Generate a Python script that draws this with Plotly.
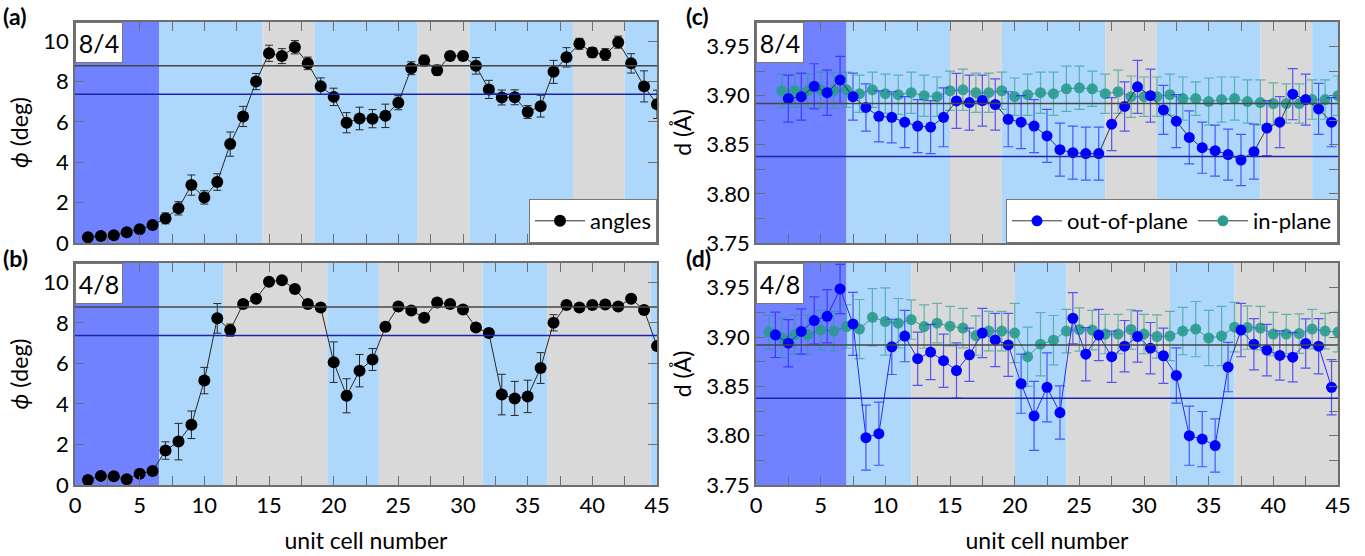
import plotly.graph_objects as go

# ---------------- data ----------------
cells = list(range(1, 46))

angles_84 = [0.28, 0.35, 0.38, 0.53, 0.68,
             0.89, 1.22, 1.72, 2.87, 2.26,
             3.02, 4.90, 6.27, 8.00, 9.40,
             9.26, 9.70, 8.90, 7.77, 7.24,
             5.96, 6.17, 6.16, 6.30, 6.95,
             8.66, 9.04, 8.56, 9.27, 9.27,
             8.78, 7.61, 7.21, 7.22, 6.49,
             6.78, 8.48, 9.20, 9.87, 9.44,
             9.34, 9.95, 8.90, 7.76, 6.87]
angles_84_err = [0.1, 0.1, 0.1, 0.1, 0.1,
                 0.1, 0.27, 0.33, 0.5, 0.33,
                 0.41, 0.6, 0.5, 0.4, 0.4,
                 0.37, 0.33, 0.31, 0.41, 0.43,
                 0.5, 0.56, 0.45, 0.58, 0.35,
                 0.32, 0.27, 0.25, 0.2, 0.2,
                 0.41, 0.45, 0.37, 0.37, 0.32,
                 0.54, 0.57, 0.48, 0.27, 0.25,
                 0.29, 0.3, 0.48, 0.77, 0.7]

angles_48 = [0.25, 0.45, 0.43, 0.28, 0.56,
             0.69, 1.70, 2.14, 2.97, 5.15,
             8.22, 7.64, 8.93, 9.19, 10.03,
             10.10, 9.67, 8.93, 8.75, 6.06,
             4.40, 5.64, 6.19, 7.80, 8.81,
             8.61, 8.25, 9.00, 8.93, 8.66,
             7.77, 7.50, 4.46, 4.27, 4.37,
             5.77, 8.00, 8.88, 8.75, 8.88,
             8.90, 8.80, 9.19, 8.63, 6.85]
angles_48_err = [0.1, 0.1, 0.1, 0.1, 0.1,
                 0.1, 0.43, 0.9, 0.68, 0.65,
                 0.73, 0.3, 0.15, 0.15, 0.15,
                 0.15, 0.15, 0.15, 0.15, 1.0,
                 0.84, 0.8, 0.54, 0.2, 0.15,
                 0.15, 0.15, 0.15, 0.15, 0.15,
                 0.15, 0.2, 1.0, 0.84, 0.8,
                 0.76, 0.4, 0.15, 0.15, 0.15,
                 0.15, 0.15, 0.15, 0.2, 0.2]

# panel (c) 8/4
inp_84_x = list(range(2, 46))
inp_84 = [3.905, 3.905, 3.905, 3.906, 3.905,
          3.906, 3.902, 3.906, 3.902, 3.901,
          3.903, 3.900, 3.899, 3.905, 3.906,
          3.903, 3.903, 3.905, 3.899, 3.901,
          3.903, 3.902, 3.907, 3.908, 3.907,
          3.902, 3.904, 3.899, 3.899, 3.899,
          3.901, 3.897, 3.897, 3.894, 3.896,
          3.897, 3.894, 3.893, 3.892, 3.892,
          3.892, 3.896, 3.896, 3.900]
inp_84_err = [0.017, 0.017, 0.017, 0.018, 0.018,
              0.018, 0.019, 0.018, 0.020, 0.020,
              0.021, 0.021, 0.020, 0.020, 0.021,
              0.020, 0.020, 0.019, 0.019, 0.021,
              0.021, 0.022, 0.023, 0.022, 0.018,
              0.020, 0.022, 0.021, 0.020, 0.020,
              0.021, 0.022, 0.017, 0.024, 0.023,
              0.022, 0.022, 0.023, 0.021, 0.020,
              0.020, 0.020, 0.020, 0.020]
oop_84_x = [i + 0.5 for i in range(2, 45)]
oop_84 = [3.897, 3.899, 3.9095, 3.903, 3.916,
          3.899, 3.888, 3.879, 3.878, 3.873,
          3.869, 3.868, 3.878, 3.8946, 3.893,
          3.895, 3.891, 3.876, 3.873, 3.869,
          3.859, 3.845, 3.842, 3.841, 3.841,
          3.871, 3.889, 3.909, 3.900, 3.8855,
          3.874, 3.8575, 3.847, 3.844, 3.840,
          3.8345, 3.843, 3.867, 3.873, 3.9015,
          3.896, 3.8865, 3.873]
oop_84_err = [0.024, 0.024, 0.023, 0.023, 0.024,
              0.024, 0.024, 0.026, 0.026, 0.026,
              0.027, 0.027, 0.030, 0.028, 0.028,
              0.026, 0.026, 0.028, 0.027, 0.027,
              0.027, 0.027, 0.027, 0.027, 0.027,
              0.027, 0.025, 0.027, 0.027, 0.025,
              0.027, 0.027, 0.026, 0.026, 0.026,
              0.026, 0.028, 0.028, 0.026, 0.026,
              0.026, 0.026, 0.025]

# panel (d) 4/8
inp_48_x = list(range(1, 46))
inp_48 = [3.905, 3.899, 3.9025, 3.902, 3.907,
          3.906, 3.9106, 3.908, 3.920, 3.9157,
          3.914, 3.9177, 3.9106, 3.914, 3.911,
          3.909, 3.9015, 3.906, 3.906, 3.904,
          3.880, 3.8927, 3.8968, 3.906, 3.9076,
          3.907, 3.903, 3.903, 3.9076, 3.903,
          3.9005, 3.901, 3.906, 3.908, 3.899,
          3.901, 3.910, 3.9096, 3.909, 3.903,
          3.903, 3.9035, 3.908, 3.906, 3.905]
inp_48_err = [0.017, 0.020, 0.020, 0.020, 0.020,
              0.020, 0.022, 0.030, 0.029, 0.034,
              0.025, 0.020, 0.022, 0.020, 0.020,
              0.020, 0.020, 0.020, 0.020, 0.030,
              0.030, 0.032, 0.025, 0.022, 0.022,
              0.020, 0.020, 0.020, 0.020, 0.020,
              0.022, 0.025, 0.024, 0.028, 0.028,
              0.030, 0.025, 0.022, 0.022, 0.022,
              0.020, 0.020, 0.020, 0.018, 0.020]
oop_48_x = [i + 0.5 for i in range(1, 45)]
oop_48 = [3.9022, 3.8937, 3.9056, 3.9167, 3.921,
          3.9487, 3.9133, 3.798, 3.802, 3.890,
          3.9009, 3.878, 3.8847, 3.876, 3.866,
          3.882, 3.904, 3.897, 3.892, 3.8527,
          3.820, 3.849, 3.8234, 3.919, 3.8826,
          3.902, 3.880, 3.8907, 3.9005, 3.8887,
          3.881, 3.861, 3.800, 3.7965, 3.790,
          3.8695, 3.907, 3.8927, 3.8867, 3.8813,
          3.8796, 3.8934, 3.8907, 3.849]
oop_48_err = [0.023, 0.024, 0.023, 0.024, 0.027,
              0.025, 0.032, 0.033, 0.032, 0.028,
              0.026, 0.027, 0.028, 0.027, 0.028,
              0.027, 0.025, 0.027, 0.032, 0.030,
              0.035, 0.035, 0.027, 0.026, 0.027,
              0.026, 0.026, 0.026, 0.026, 0.026,
              0.028, 0.028, 0.030, 0.028, 0.027,
              0.025, 0.027, 0.026, 0.026, 0.025,
              0.025, 0.025, 0.028, 0.028]

# layer regions (edges in unit cells) and their kinds
bands_a = [0, 6.5, 14.5, 18.5, 26.5, 30.5, 38.5, 42.5, 45]
bands_b = [0, 6.5, 11.5, 19.5, 23.5, 31.5, 36.5, 44.5, 45]
bands_c = [0, 7, 15, 19, 27, 31, 39, 43, 45]
bands_d = [0, 7, 12, 20, 24, 32, 37, 45]
kinds = ["sub", "blue", "gray", "blue", "gray", "blue", "gray", "blue"]

ref_angles = [8.78, 7.37]
ref_d = [3.892, 3.838]

x_ticks = [0, 5, 10, 15, 20, 25, 30, 35, 40, 45]

# ---------------- styling ----------------
W, H = 1365, 556
FONT = "Lato, 'Open Sans', sans-serif"
band_col = {"sub": "rgb(112,130,255)", "blue": "rgb(173,216,251)", "gray": "rgb(217,217,217)"}
ref_cols = ["rgb(70,70,70)", "rgb(30,35,170)"]
frame = "rgb(110,110,110)"
teal = "rgba(40,155,142,0.9)"
teal_err = "rgba(40,155,142,0.65)"
blue = "rgb(0,0,255)"
blue_err = "rgba(40,40,255,0.75)"

def px_x(p):
    return p / W

def px_y(p):
    return 1 - p / H

dom_left = [px_x(75), px_x(657)]
dom_right = [px_x(756), px_x(1338)]
dom_top = [px_y(243), px_y(22)]
dom_bot = [px_y(485), px_y(263)]

fig = go.Figure()

# panel (a)
fig.add_trace(go.Scatter(
    x=cells, y=angles_84, mode="lines+markers", name="angles",
    line=dict(color="rgb(40,40,40)", width=1),
    marker=dict(color="black", size=12),
    error_y=dict(type="data", array=angles_84_err, color="rgb(40,40,40)", thickness=1, width=4),
    xaxis="x", yaxis="y", legend="legend"))
# panel (b)
fig.add_trace(go.Scatter(
    x=cells, y=angles_48, mode="lines+markers", name="angles", showlegend=False,
    line=dict(color="rgb(40,40,40)", width=1),
    marker=dict(color="black", size=12),
    error_y=dict(type="data", array=angles_48_err, color="rgb(40,40,40)", thickness=1, width=4),
    xaxis="x2", yaxis="y2"))
# panel (c)
fig.add_trace(go.Scatter(
    x=inp_84_x, y=inp_84, mode="lines+markers", name="in-plane", showlegend=False,
    line=dict(color="rgba(40,90,90,0.6)", width=1),
    marker=dict(color=teal, size=11),
    error_y=dict(type="data", array=inp_84_err, color=teal_err, thickness=1.2, width=5),
    xaxis="x3", yaxis="y3"))
fig.add_trace(go.Scatter(
    x=oop_84_x, y=oop_84, mode="lines+markers", name="out-of-plane",
    line=dict(color="rgb(50,50,70)", width=1),
    marker=dict(color=blue, size=11),
    error_y=dict(type="data", array=oop_84_err, color=blue_err, thickness=1.2, width=5),
    xaxis="x3", yaxis="y3", legend="legend2"))
fig.add_trace(go.Scatter(
    x=[None], y=[None], mode="lines+markers", name="in-plane",
    line=dict(color="rgb(50,50,50)", width=1),
    marker=dict(color="rgb(45,155,145)", size=11),
    xaxis="x3", yaxis="y3", legend="legend2"))
# panel (d)
fig.add_trace(go.Scatter(
    x=inp_48_x, y=inp_48, mode="lines+markers", name="in-plane", showlegend=False,
    line=dict(color="rgba(40,90,90,0.6)", width=1),
    marker=dict(color=teal, size=11),
    error_y=dict(type="data", array=inp_48_err, color=teal_err, thickness=1.2, width=5),
    xaxis="x4", yaxis="y4"))
fig.add_trace(go.Scatter(
    x=oop_48_x, y=oop_48, mode="lines+markers", name="out-of-plane", showlegend=False,
    line=dict(color="rgb(40,40,255)", width=1),
    marker=dict(color=blue, size=11),
    error_y=dict(type="data", array=oop_48_err, color=blue_err, thickness=1.2, width=5),
    xaxis="x4", yaxis="y4"))

shapes = []
def add_bands(edges, xr, yr):
    for i in range(len(edges) - 1):
        shapes.append(dict(type="rect", xref=xr, yref=yr + " domain",
                           x0=edges[i], x1=edges[i + 1], y0=0, y1=1,
                           fillcolor=band_col[kinds[i]], line=dict(width=0), layer="below"))

def add_refs(vals, xr, yr):
    for v, c in zip(vals, ref_cols):
        shapes.append(dict(type="line", xref=xr + " domain", yref=yr,
                           x0=0, x1=1, y0=v, y1=v, line=dict(color=c, width=1.5), layer="above"))

add_bands(bands_a, "x", "y")
add_bands(bands_b, "x2", "y2")
add_bands(bands_c, "x3", "y3")
add_bands(bands_d, "x4", "y4")
add_refs(ref_angles, "x", "y")
add_refs(ref_angles, "x2", "y2")
add_refs(ref_d, "x3", "y3")
add_refs(ref_d, "x4", "y4")

tickfont = dict(family=FONT, size=22, color="black")
titlefont = dict(family=FONT, size=23, color="black")

def xax(domain, anchor, labels):
    return dict(domain=domain, anchor=anchor, range=[0, 45], tickmode="array",
                tickvals=x_ticks, ticktext=[str(t) for t in x_ticks] if labels else [""] * len(x_ticks),
                ticks="inside", ticklen=9, tickcolor=frame, tickwidth=1.2,
                minor=dict(dtick=2.5, tick0=0, ticks="inside", ticklen=9, tickcolor=frame, tickwidth=1.2),
                showline=True, linecolor=frame, linewidth=1.5, mirror="ticks",
                showgrid=False, zeroline=False, tickfont=tickfont, automargin=False,
                title=dict(text="unit cell number" if labels else "", font=titlefont, standoff=16))

def yax_angle(domain, anchor):
    return dict(domain=domain, anchor=anchor, range=[0, 10.95], dtick=2, tick0=0,
                ticks="inside", ticklen=9, tickcolor=frame, tickwidth=1.2,
                showline=True, linecolor=frame, linewidth=1.5, mirror="ticks",
                showgrid=False, zeroline=False, tickfont=tickfont, automargin=False,
                title=dict(text="<i>ϕ</i> (deg)", font=titlefont, standoff=8))

def yax_d(domain, anchor):
    return dict(domain=domain, anchor=anchor, range=[3.75, 3.975], dtick=0.05, tick0=3.75,
                tickformat=".2f",
                ticks="inside", ticklen=9, tickcolor=frame, tickwidth=1.2,
                minor=dict(dtick=0.025, tick0=3.75, ticks="inside", ticklen=9, tickcolor=frame, tickwidth=1.2),
                showline=True, linecolor=frame, linewidth=1.5, mirror="ticks",
                showgrid=False, zeroline=False, tickfont=tickfont, automargin=False,
                title=dict(text="d (Å)", font=titlefont, standoff=8))

annotations = []
for xr, yr, txt in [("x", "y", "8/4"), ("x2", "y2", "4/8"), ("x3", "y3", "8/4"), ("x4", "y4", "4/8")]:
    annotations.append(dict(xref=xr + " domain", yref=yr + " domain", x=0.0, y=1.0,
                            xanchor="left", yanchor="top", text=txt, showarrow=False,
                            font=dict(family=FONT, size=25, color="black"),
                            bgcolor="white", bordercolor="rgb(120,120,120)", borderwidth=1,
                            width=44, height=37, align="center"))
for xp, yc, txt in [(1, 16, "(a)"), (1, 258, "(b)"), (684, 16, "(c)"), (684, 258, "(d)")]:
    annotations.append(dict(xref="paper", yref="paper", x=px_x(xp), y=px_y(yc),
                            xanchor="left", yanchor="middle", text="<b>" + txt + "</b>", showarrow=False,
                            font=dict(family=FONT, size=23, color="black")))

legend_style = dict(bgcolor="white", bordercolor="rgb(120,120,120)", borderwidth=1,
                    font=dict(family=FONT, size=22, color="black"),
                    xanchor="right", yanchor="bottom", orientation="h",
                    itemwidth=50, tracegroupgap=0)

fig.update_layout(
    width=W, height=H, margin=dict(l=0, r=0, t=0, b=0, autoexpand=False),
    paper_bgcolor="white", plot_bgcolor="white",
    font=dict(family=FONT),
    xaxis=xax(dom_left, "y", False), yaxis=yax_angle(dom_top, "x"),
    xaxis2=xax(dom_left, "y2", True), yaxis2=yax_angle(dom_bot, "x2"),
    xaxis3=xax(dom_right, "y3", False), yaxis3=yax_d(dom_top, "x3"),
    xaxis4=xax(dom_right, "y4", True), yaxis4=yax_d(dom_bot, "x4"),
    shapes=shapes, annotations=annotations,
    legend=dict(x=dom_left[1], y=dom_top[0], **legend_style),
    legend2=dict(x=dom_right[1], y=dom_top[0], **legend_style),
)

fig.write_html("out.html", config={"displayModeBar": False},
               post_script="document.body.style.margin='0';document.body.style.overflow='hidden';")
